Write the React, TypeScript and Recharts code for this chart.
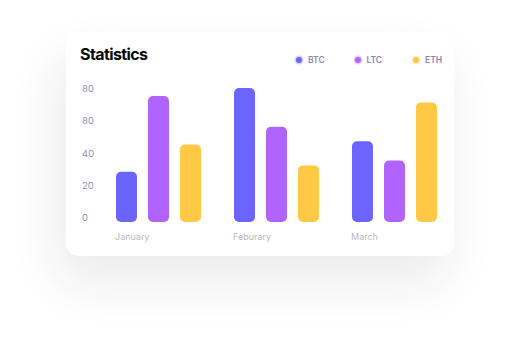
import { BarChart, Bar, XAxis, YAxis } from "recharts";

const months = ["January", "Feburary", "March"];
const btc = [28, 80, 47];
const ltc = [75, 56, 35];
const eth = [45, 32, 71];
const yTicks = [0, 20, 40, 60, 80];
const yTickLabels = ["0", "20", "40", "80", "80"];

const seriesMeta = [
  { key: "btc", name: "BTC", color: "#6c64ff" },
  { key: "ltc", name: "LTC", color: "#b164fd" },
  { key: "eth", name: "ETH", color: "#ffc845" },
];

const data = months.map((m, i) => ({ month: m, btc: btc[i], ltc: ltc[i], eth: eth[i] }));

const FONT = "Inter, 'Noto Sans', sans-serif";

// bars run a little past the baseline with rounded ends, like the design
function RoundBar(props: any) {
  const { x, y, width, height, fill } = props;
  if (height == null || width == null) return null;
  return <rect x={x} y={y} width={width} height={height + 5} rx={5} ry={5} fill={fill} />;
}

function YTick(props: any) {
  const { y, payload, index } = props;
  return (
    <text x={16} y={y} dy={4} fill="#948fb0" fontSize={9.5} fontFamily={FONT} textAnchor="start">
      {yTickLabels[index] ?? payload.value}
    </text>
  );
}

function XTick(props: any) {
  const { x, y, payload } = props;
  return (
    <text x={x - 44} y={y} dy={15} fill="#b9b8c2" fontSize={9} fontFamily={FONT} textAnchor="start">
      {payload.value}
    </text>
  );
}

function ChartLegend() {
  return (
    <div style={{ position: "absolute", left: 228, top: 23, display: "flex", fontFamily: FONT }}>
      {seriesMeta.map((s) => (
        <div key={s.key} style={{ display: "flex", alignItems: "center", width: 58.5 }}>
          <svg width={10} height={10} style={{ marginRight: 4 }}>
            <circle cx={5} cy={5} r={4.5} fill={s.color} fillOpacity={0.3} />
            <circle cx={5} cy={5} r={3} fill={s.color} />
          </svg>
          <span style={{ fontSize: 8.5, fontWeight: 600, color: "#8d88aa" }}>{s.name}</span>
        </div>
      ))}
    </div>
  );
}

export default function App() {
  return (
    <div style={{ position: "fixed", left: 0, top: 0, width: 519, height: 357, background: "#fff", overflow: "hidden" }}>
      <div
        style={{
          position: "absolute",
          left: 66,
          top: 32,
          width: 388,
          height: 224,
          background: "#fff",
          borderRadius: 12,
          boxShadow: "-8px 26px 50px rgba(30,30,50,0.09)",
        }}
      >
        <div
          style={{
            position: "absolute",
            left: 14,
            top: 12,
            fontFamily: FONT,
            fontSize: 16,
            fontWeight: 700,
            letterSpacing: -0.6,
            color: "#0a0a0a",
          }}
        >
          Statistics
        </div>
        <ChartLegend />
        <BarChart
          width={388}
          height={224}
          data={data}
          margin={{ top: 56, right: 0, left: 0, bottom: 0 }}
          barCategoryGap={16}
          barGap={11}
        >
          <XAxis dataKey="month" axisLine={false} tickLine={false} height={39} tick={<XTick />} interval={0} />
          <YAxis domain={[0, 80]} ticks={yTicks} axisLine={false} tickLine={false} width={34} tick={<YTick />} interval={0} />
          {seriesMeta.map((s) => (
            <Bar key={s.key} dataKey={s.key} name={s.name} fill={s.color} shape={<RoundBar />} isAnimationActive={false} />
          ))}
        </BarChart>
      </div>
    </div>
  );
}
